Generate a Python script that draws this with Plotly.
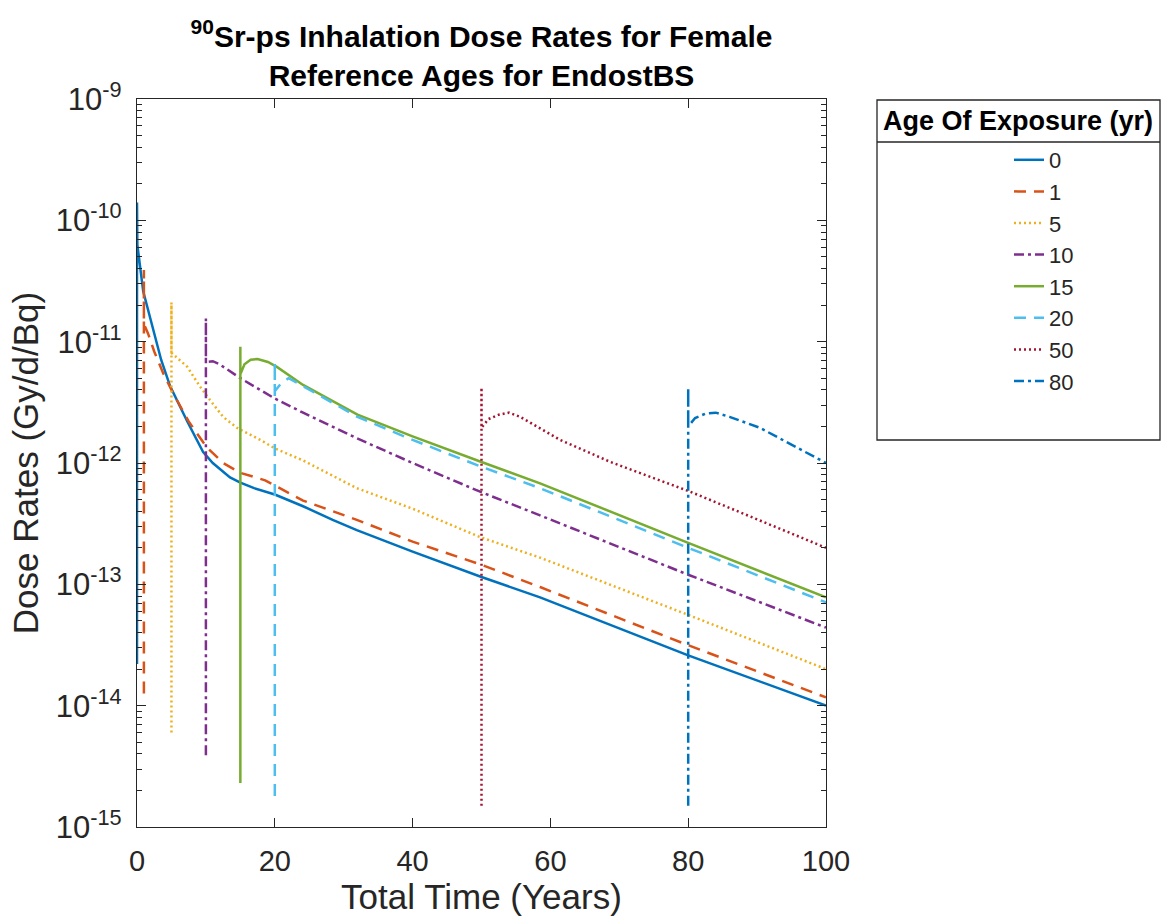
import plotly.graph_objects as go

# ---------------- data ----------------
ages = ["0", "1", "5", "10", "15", "20", "50", "80"]

t_age0 = [0, 0, 0.05, 0.9, 2.3, 3.5, 4.8, 7.3, 9.6, 11, 13.5, 15, 17, 20, 24.1, 28.4, 31.9, 40, 50, 58.5, 80, 100]
d_age0 = [2.2e-14, 1.4e-10, 6.3e-11, 2.6e-11, 1.26e-11, 7.1e-12, 4.3e-12, 2.2e-12, 1.23e-12, 1.0e-12,
          7.6e-13, 6.9e-13, 6.2e-13, 5.5e-13, 4.4e-13, 3.4e-13, 2.8e-13, 1.86e-13, 1.15e-13, 7.8e-14,
          2.6e-14, 1.0e-14]

t_age1 = [1, 1, 1, 1.6, 2.5, 3.8, 5.2, 7.5, 10.1, 12.5, 15, 18.6, 24.1, 31.9, 40, 50, 58.5, 80, 100]
d_age1 = [1.26e-14, 3.9e-11, 1.4e-11, 1.17e-11, 8.3e-12, 5.5e-12, 3.8e-12, 2.2e-12, 1.35e-12, 1.0e-12,
          8.3e-13, 7.2e-13, 4.9e-13, 3.4e-13, 2.25e-13, 1.45e-13, 9.5e-14, 3.15e-14, 1.17e-14]

t_age5 = [5, 5, 5, 7.3, 9.1, 10.6, 12.5, 14.5, 17.9, 20, 24.1, 31.9, 40, 49.8, 58.5, 80, 100]
d_age5 = [6.0e-15, 2.1e-11, 8.1e-12, 6.2e-12, 4.3e-12, 3.3e-12, 2.4e-12, 1.95e-12, 1.55e-12, 1.32e-12,
          1.05e-12, 6.2e-13, 4.2e-13, 2.45e-13, 1.66e-13, 5.6e-14, 2.0e-14]

t_age10 = [10, 10, 10, 11, 12, 15, 17.9, 20, 24.1, 31.9, 40, 49.8, 58.5, 80, 100]
d_age10 = [3.9e-15, 1.55e-11, 6.8e-12, 6.9e-12, 6.5e-12, 5.0e-12, 4.0e-12, 3.4e-12, 2.6e-12, 1.6e-12,
           1.0e-12, 5.8e-13, 3.7e-13, 1.2e-13, 4.4e-14]

t_age15 = [15, 15, 15, 15.6, 16.5, 17.5, 19, 20.3, 24.1, 32, 40, 50, 58.5, 80, 100]
d_age15 = [2.3e-15, 9.1e-12, 5.4e-12, 6.5e-12, 7.1e-12, 7.2e-12, 6.8e-12, 6.2e-12, 4.4e-12, 2.5e-12,
           1.66e-12, 1.02e-12, 6.8e-13, 2.2e-13, 7.8e-14]

t_age20 = [20, 20, 20, 21, 22, 24.1, 32, 40, 50, 58.5, 80, 100]
d_age20 = [1.8e-15, 6.8e-12, 3.9e-12, 4.6e-12, 5.0e-12, 4.3e-12, 2.4e-12, 1.55e-12, 9.3e-13, 6.2e-13,
           2.0e-13, 7.1e-14]

t_age50 = [50, 50, 50, 51, 52.5, 54, 55.6, 61.4, 68.7, 80.3, 100]
d_age50 = [1.5e-15, 4.2e-12, 1.95e-12, 2.3e-12, 2.5e-12, 2.6e-12, 2.4e-12, 1.55e-12, 1.02e-12, 5.8e-13, 2.0e-13]

t_age80 = [80, 80, 80, 81, 82.5, 84, 86, 90.4, 95.2, 100]
d_age80 = [1.5e-15, 4.2e-12, 2.0e-12, 2.35e-12, 2.55e-12, 2.6e-12, 2.4e-12, 1.95e-12, 1.4e-12, 1.0e-12]

x_ticks = [0, 20, 40, 60, 80, 100]
y_ticks = [1e-15, 1e-14, 1e-13, 1e-12, 1e-11, 1e-10, 1e-9]
y_tick_text = ["10<sup>-15</sup>", "10<sup>-14</sup>", "10<sup>-13</sup>", "10<sup>-12</sup>",
               "10<sup>-11</sup>", "10<sup>-10</sup>", "10<sup>-9</sup>"]

# ---------------- styles ----------------
series = [
    (t_age0, d_age0, "#0072BD", "solid"),
    (t_age1, d_age1, "#D95319", "12px,8px"),
    (t_age5, d_age5, "#EDB120", "2px,3px"),
    (t_age10, d_age10, "#7E2F8E", "10px,4px,3px,4px"),
    (t_age15, d_age15, "#77AC30", "solid"),
    (t_age20, d_age20, "#4DBEEE", "12px,8px"),
    (t_age50, d_age50, "#A2142F", "2px,3px"),
    (t_age80, d_age80, "#0072BD", "10px,4px,3px,4px"),
]

fig = go.Figure()
for name, (t, d, col, dash) in zip(ages, series):
    fig.add_trace(go.Scatter(x=t, y=d, mode="lines", name=name,
                             line=dict(color=col, width=2.5, dash=dash)))

axis_col = "#262626"
font_fam = "Arial, Liberation Sans, sans-serif"

# plot area in pixels: left 137, right 826, top 99, bottom 827
W, H = 1162, 924
L, R, T, B = 137, 826, 99, 827
def px(xp):
    return (xp - L) / (R - L)
def py(yp):
    return (B - yp) / (B - T)

fig.update_layout(
    width=W, height=H, autosize=False,
    margin=dict(l=L, r=W - R, t=T, b=H - B),
    paper_bgcolor="white", plot_bgcolor="white",
    font=dict(family=font_fam, color=axis_col),
    title=dict(text="<b><sup>90</sup>Sr-ps Inhalation Dose Rates for Female<br>Reference Ages for EndostBS</b>",
               x=0.5, xref="paper", xanchor="center",
               y=1, yref="paper", yanchor="bottom", pad=dict(b=52),
               font=dict(size=30, color="black", family=font_fam)),
    xaxis=dict(range=[0, 100], tickvals=x_ticks, ticks="inside", ticklen=9, tickwidth=1.2,
               tickcolor=axis_col, showline=True, linecolor=axis_col, linewidth=1.3,
               mirror="ticks", showgrid=False, zeroline=False, automargin=False,
               ticklabelstandoff=8,
               tickfont=dict(size=29, color=axis_col),
               title=dict(text="Total Time (Years)", font=dict(size=35, color=axis_col), standoff=4)),
    yaxis=dict(type="log", range=[-15, -9], tickvals=y_ticks, ticktext=y_tick_text,
               ticks="inside", ticklen=9, tickwidth=1.2, tickcolor=axis_col,
               showline=True, linecolor=axis_col, linewidth=1.3, mirror="ticks",
               showgrid=False, zeroline=False, automargin=False,
               ticklabelstandoff=8,
               minor=dict(ticks="inside", ticklen=5, tickcolor=axis_col, dtick="D1", showgrid=False),
               tickfont=dict(size=31, color=axis_col),
               title=dict(text="Dose Rates (Gy/d/Bq)", font=dict(size=35, color=axis_col), standoff=6)),
    legend=dict(x=px(877), xanchor="left", y=py(139), yanchor="top",
                font=dict(size=22, color=axis_col),
                bgcolor="rgba(0,0,0,0)", borderwidth=0, indentation=132,
                tracegroupgap=0),
    showlegend=True,
)

# legend header, frame and header separator
fig.add_annotation(text="<b>Age Of Exposure (yr)</b>", xref="paper", yref="paper",
                   x=px(1018.5), y=py(121), xanchor="center", yanchor="middle",
                   showarrow=False, font=dict(size=27, color="black", family=font_fam))
fig.add_shape(type="rect", xref="paper", yref="paper",
              x0=px(877), x1=px(1160), y0=py(440), y1=py(100),
              line=dict(color=axis_col, width=1.3), fillcolor="rgba(0,0,0,0)")
fig.add_shape(type="line", xref="paper", yref="paper",
              x0=px(877), x1=px(1160), y0=py(142), y1=py(142),
              line=dict(color=axis_col, width=1.3))

fig.write_html("out.html")
